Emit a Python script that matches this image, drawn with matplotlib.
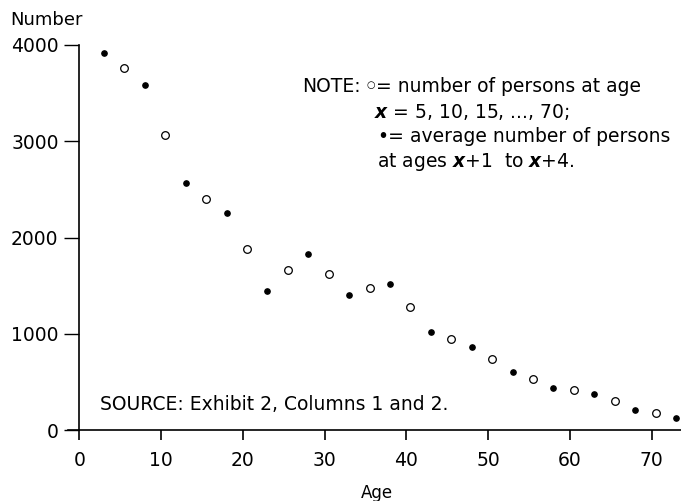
import matplotlib
matplotlib.use("Agg")
import matplotlib.pyplot as plt

plt.rcParams['font.family'] = ['DejaVu Sans']
plt.rcParams['mathtext.fontset'] = 'custom'
plt.rcParams['mathtext.it'] = 'DejaVu Sans:italic:bold'

# number of persons at single ages x = 5, 10, ..., 70 (plotted at x + 0.5)
open_age = [5.5, 10.5, 15.5, 20.5, 25.5, 30.5, 35.5, 40.5, 45.5, 50.5, 55.5, 60.5, 65.5, 70.5]
open_num = [3765, 3060, 2405, 1880, 1660, 1625, 1480, 1280, 950, 740, 530, 412, 300, 177]

# average number of persons at ages x+1 to x+4 (plotted at midpoint)
avg_age = [3, 8, 13, 18, 23, 28, 33, 38, 43, 48, 53, 58, 63, 68, 73]
avg_num = [3920, 3580, 2570, 2250, 1445, 1832, 1405, 1520, 1015, 860, 603, 436, 375, 205, 122]

x_ticks = [0, 10, 20, 30, 40, 50, 60, 70]
y_ticks = [0, 1000, 2000, 3000, 4000]

fig = plt.figure(figsize=(6.81, 5.01), dpi=100)
ax = fig.add_axes([68 / 681, 71 / 501, 613 / 681, 385 / 501])

ax.plot(open_age, open_num, linestyle='none', marker='o', markersize=5.5,
        markerfacecolor='white', markeredgecolor='black', markeredgewidth=0.9)
ax.plot(avg_age, avg_num, linestyle='none', marker='o', markersize=3.8,
        color='black')

ax.set_xlim(-1.4, 73.6)
ax.set_ylim(0, 4000)
ax.spines['top'].set_visible(False)
ax.spines['right'].set_visible(False)
ax.spines['left'].set_position(('data', 0))
ax.spines['left'].set_linewidth(1.2)
ax.spines['bottom'].set_linewidth(1.2)

ax.set_xticks(x_ticks)
ax.set_yticks(y_ticks)
ax.tick_params(axis='x', direction='out', length=7, width=1.2, pad=8, labelsize=13.5)
ax.tick_params(axis='y', direction='out', length=11, width=1.0, pad=4, labelsize=13.5)
ax.set_xlabel('Age', fontsize=12)
ax.xaxis.set_label_coords((377 - 68) / 613, -0.14)

fig.text(10 / 681, 1 - 20 / 501, 'Number', fontsize=13, va='center', ha='left')

fs = 13.5
ax.text(27.2, 3565, 'NOTE:', fontsize=fs, va='center', ha='left')
ax.text(35.1, 3580, '○', fontsize=7, va='center', ha='left')
ax.text(36.3, 3565, '= number of persons at age', fontsize=fs, va='center', ha='left')
ax.text(36.0, 3305, '$x$ = 5, 10, 15, ..., 70;', fontsize=fs, va='center', ha='left')
ax.text(36.4, 3045, '•=', fontsize=fs, va='center', ha='left')
ax.text(40.4, 3045, 'average number of persons', fontsize=fs, va='center', ha='left')
ax.text(36.4, 2785, 'at ages $x$+1  to $x$+4.', fontsize=fs, va='center', ha='left')

ax.text(2.5, 260, 'SOURCE: Exhibit 2, Columns 1 and 2.', fontsize=fs,
        va='center', ha='left')

fig.savefig('out.png', dpi=100)
